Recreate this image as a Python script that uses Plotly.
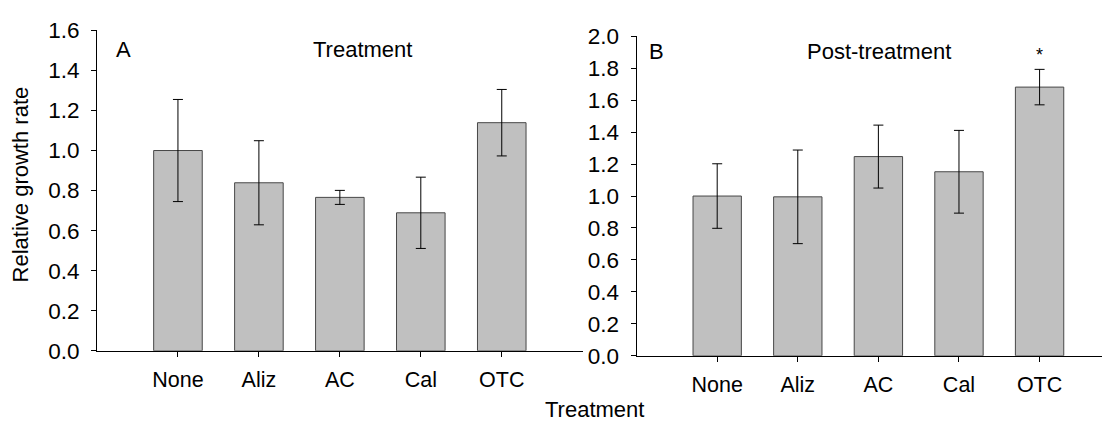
import plotly.graph_objects as go

categories = ["None", "Aliz", "AC", "Cal", "OTC"]
treat_vals = [1.0, 0.839, 0.766, 0.689, 1.139]
treat_err = [0.255, 0.21, 0.035, 0.178, 0.166]
post_vals = [1.0, 0.995, 1.247, 1.152, 1.682]
post_err = [0.202, 0.293, 0.197, 0.259, 0.111]
ytick_a = [0.0, 0.2, 0.4, 0.6, 0.8, 1.0, 1.2, 1.4, 1.6]
ytick_b = [0.0, 0.2, 0.4, 0.6, 0.8, 1.0, 1.2, 1.4, 1.6, 1.8, 2.0]

W, H = 1110, 434
OFF = 8  # page body margin offset
FONT = "Liberation Sans, Arial, sans-serif"
FS = 21.5

fig = go.Figure()
bar_style = dict(marker=dict(color="#c0c0c0", line=dict(color="#474747", width=1)),
                 width=0.6, showlegend=False, hoverinfo="skip")
err_style = dict(type="data", visible=True, color="black", thickness=1, width=5)

fig.add_trace(go.Bar(x=categories, y=treat_vals, error_y=dict(array=treat_err, **err_style),
                     xaxis="x", yaxis="y", **bar_style))
fig.add_trace(go.Bar(x=categories, y=post_vals, error_y=dict(array=post_err, **err_style),
                     xaxis="x2", yaxis="y2", **bar_style))

def px_x(p):
    return (p - OFF) / W

def px_y(p):
    return (H - (p - OFF)) / H

axis_common = dict(showline=True, linecolor="black", linewidth=1, showgrid=False,
                   zeroline=False, ticks="outside", tickcolor="black", ticklen=5)
xfont = dict(family=FONT, size=FS, color="black")
yfont = dict(family=FONT, size=22.5, color="black")

fig.update_layout(
    width=W, height=H, margin=dict(l=0, r=0, t=0, b=0),
    paper_bgcolor="white", plot_bgcolor="white",
    font=dict(family=FONT, size=FS, color="black"),
    xaxis=dict(domain=[px_x(97), px_x(582.7)], range=[-1, 5], type="category",
               anchor="y", ticklabelstandoff=4, tickfont=xfont, **axis_common),
    yaxis=dict(domain=[px_y(359), px_y(19)], range=[0, 1.6], tickvals=ytick_a,
               ticktext=[f"{v:.1f}" for v in ytick_a], anchor="x", ticklabelstandoff=7,
               tickfont=yfont, **axis_common),
    xaxis2=dict(domain=[px_x(636.6), 1.0], range=[-1, 4.973], type="category",
                anchor="y2", ticklabelstandoff=4, tickfont=xfont, **axis_common),
    yaxis2=dict(domain=[px_y(364.3), px_y(25.3)], range=[0, 2.0], tickvals=ytick_b,
                ticktext=[f"{v:.1f}" for v in ytick_b], anchor="x2", ticklabelstandoff=7,
                tickfont=yfont, **axis_common),
)

ann = dict(xref="paper", yref="paper", showarrow=False, xanchor="center", yanchor="middle",
           font=dict(family=FONT, size=22, color="black"))
fig.add_annotation(text="A", x=px_x(123), y=px_y(39.2), **ann)
fig.add_annotation(text="Treatment", x=px_x(362), y=px_y(39.2), **ann)
fig.add_annotation(text="B", x=px_x(656), y=px_y(41.5), **ann)
fig.add_annotation(text="Post-treatment", x=px_x(879), y=px_y(41.5), **ann)
fig.add_annotation(text="Treatment", x=px_x(594.5), y=px_y(421), **ann)
fig.add_annotation(text="Relative growth rate", x=px_x(20.5), y=px_y(183), textangle=-90,
                   xref="paper", yref="paper", showarrow=False, xanchor="center",
                   yanchor="middle", font=dict(family=FONT, size=22, color="black"))
fig.add_annotation(text="*", x="OTC", y=1.88, xref="x2", yref="y2", showarrow=False,
                   xanchor="center", yanchor="middle",
                   font=dict(family=FONT, size=18, color="black"))

fig.write_html("out.html")
